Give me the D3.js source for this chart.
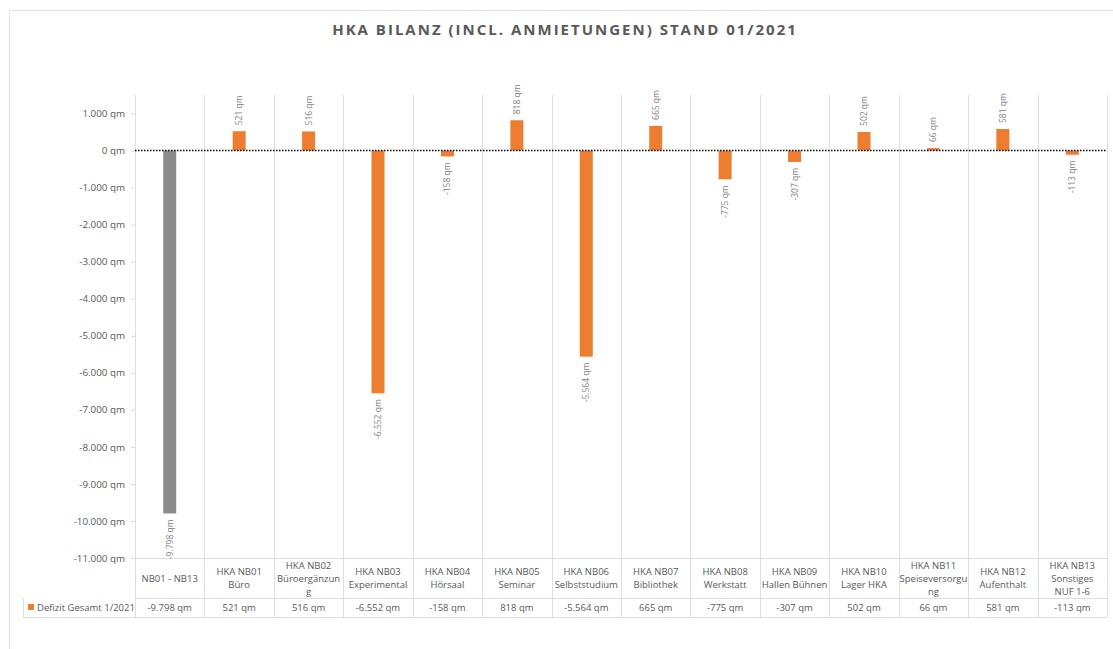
<!DOCTYPE html>
<html>
<head>
<meta charset="utf-8">
<script src="https://cdn.jsdelivr.net/npm/d3@7"></script>
<style>
  body { margin: 0; background: #fff; font-family: "Open Sans", sans-serif; }
  text { fill: #595959; }
</style>
</head>
<body>
<script>
//chart data
var categories = [
    ["NB01 - NB13"],
    ["HKA NB01", "Büro"],
    ["HKA NB02", "Büroergänzun", "g"],
    ["HKA NB03", "Experimental"],
    ["HKA NB04", "Hörsaal"],
    ["HKA NB05", "Seminar"],
    ["HKA NB06", "Selbststudium"],
    ["HKA NB07", "Bibliothek"],
    ["HKA NB08", "Werkstatt"],
    ["HKA NB09", "Hallen Bühnen"],
    ["HKA NB10", "Lager HKA"],
    ["HKA NB11", "Speiseversorgu", "ng"],
    ["HKA NB12", "Aufenthalt"],
    ["HKA NB13", "Sonstiges", "NUF 1-6"]
];
var values = [-9798, 521, 516, -6552, -158, 818, -5564, 665, -775, -307, 502, 66, 581, -113];
var yTicks = [1000, 0, -1000, -2000, -3000, -4000, -5000, -6000, -7000, -8000, -9000, -10000, -11000];
var seriesName = "Defizit Gesamt 1/2021";
var title = "HKA BILANZ (INCL. ANMIETUNGEN) STAND 01/2021";

(function(){
    //german number format
    var fmt = function(v){
        var s = d3.format(",")(v).replace(/,/g, ".");
        return s.replace("−", "-") + " qm";
    };

    var width = 1113, height = 649;
    var plotLeft = 135, plotRight = 1107, plotTop = 95, axisBottom = 558;
    var catRowBottom = 598, tableBottom = 617, tableLeft = 23;

    var svg = d3.select("body").append("svg")
        .attr("width", width)
        .attr("height", height);

    //outer chart border
    svg.append("rect")
        .attr("x", 9.5).attr("y", 10.5)
        .attr("width", 1120).attr("height", 660)
        .attr("fill", "#fff")
        .attr("stroke", "#e3e3e3");

    //title
    svg.append("text")
        .attr("x", 565).attr("y", 35)
        .attr("text-anchor", "middle")
        .style("font-size", "15px")
        .style("font-weight", "bold")
        .style("letter-spacing", "2px")
        .text(title);

    var x = d3.scaleBand()
        .domain(d3.range(categories.length))
        .range([plotLeft, plotRight]);

    var y = d3.scaleLinear()
        .domain([-11000, 1500])
        .range([axisBottom, plotTop]);

    //vertical gridlines across plot and table
    svg.selectAll(".vgrid")
        .data(d3.range(categories.length + 1))
        .enter()
        .append("line")
        .attr("class", "vgrid")
        .attr("x1", function(d){ return Math.round(plotLeft + d * x.bandwidth()) + 0.5; })
        .attr("x2", function(d){ return Math.round(plotLeft + d * x.bandwidth()) + 0.5; })
        .attr("y1", plotTop)
        .attr("y2", tableBottom)
        .attr("stroke", "#dedede");

    //table horizontal lines
    [axisBottom, catRowBottom, tableBottom].forEach(function(yy, i){
        svg.append("line")
            .attr("x1", i == 0 ? plotLeft - 4 : (i == 1 ? plotLeft : tableLeft))
            .attr("x2", plotRight)
            .attr("y1", yy + 0.5).attr("y2", yy + 0.5)
            .attr("stroke", "#dedede");
    });
    svg.append("line")
        .attr("x1", tableLeft + 0.5).attr("x2", tableLeft + 0.5)
        .attr("y1", catRowBottom).attr("y2", tableBottom)
        .attr("stroke", "#dedede");

    //y axis
    var yAxis = d3.axisLeft(y)
        .tickValues(yTicks)
        .tickSize(4)
        .tickPadding(6)
        .tickFormat(fmt);
    var gy = svg.append("g")
        .attr("transform", "translate(" + plotLeft + ",0)")
        .call(yAxis);
    gy.select(".domain").remove();
    gy.selectAll("line").attr("stroke", "#d9d9d9");
    gy.selectAll("text")
        .style("font-size", "9.8px")
        .style("font-family", "Open Sans")
        .attr("fill", "#595959");

    //bars
    svg.selectAll(".bar")
        .data(values)
        .enter()
        .append("rect")
        .attr("class", "bar")
        .attr("x", function(d, i){ return x(i) + x.bandwidth() / 2 - 6.5; })
        .attr("width", 13)
        .attr("y", function(d){ return y(Math.max(0, d)); })
        .attr("height", function(d){ return Math.abs(y(d) - y(0)); })
        .attr("fill", function(d, i){ return i == 0 ? "#8c8c8c" : "#ed7d31"; });

    //zero line
    svg.append("line")
        .attr("x1", plotLeft).attr("x2", plotRight)
        .attr("y1", y(0)).attr("y2", y(0))
        .attr("stroke", "#000")
        .attr("stroke-width", 1.5)
        .attr("stroke-dasharray", "1.5,1.5");

    //data labels
    svg.selectAll(".lbl")
        .data(values)
        .enter()
        .append("text")
        .attr("class", "lbl")
        .attr("transform", function(d, i){
            var cx = x(i) + x.bandwidth() / 2 + 3;
            var cy = d >= 0 ? y(d) - 6 : y(d) + 6;
            return "translate(" + cx + "," + cy + ") rotate(-90)";
        })
        .attr("text-anchor", function(d){ return d >= 0 ? "start" : "end"; })
        .style("font-size", "8.5px")
        .style("fill", "#7f7f7f")
        .text(fmt);

    //category labels in table
    var cats = svg.selectAll(".cat")
        .data(categories)
        .enter()
        .append("text")
        .attr("class", "cat")
        .attr("text-anchor", "middle")
        .style("font-size", "9.5px");
    cats.each(function(lines, i){
        var cx = x(i) + x.bandwidth() / 2;
        var startY = (axisBottom + catRowBottom) / 2 - (lines.length - 1) * 13 / 2 + 3.5;
        d3.select(this).selectAll("tspan")
            .data(lines)
            .enter()
            .append("tspan")
            .attr("x", cx)
            .attr("y", function(d, j){ return startY + j * 13; })
            .text(function(d){ return d; });
    });

    //value row
    svg.selectAll(".val")
        .data(values)
        .enter()
        .append("text")
        .attr("class", "val")
        .attr("x", function(d, i){ return x(i) + x.bandwidth() / 2; })
        .attr("y", (catRowBottom + tableBottom) / 2 + 3.5)
        .attr("text-anchor", "middle")
        .style("font-size", "9.5px")
        .text(fmt);

    //legend key
    svg.append("rect")
        .attr("x", 28).attr("y", 604)
        .attr("width", 6).attr("height", 6)
        .attr("fill", "#ed7d31");
    svg.append("text")
        .attr("x", 37).attr("y", (catRowBottom + tableBottom) / 2 + 3.5)
        .style("font-size", "9.5px")
        .text(seriesName);
})();
</script>
</body>
</html>
